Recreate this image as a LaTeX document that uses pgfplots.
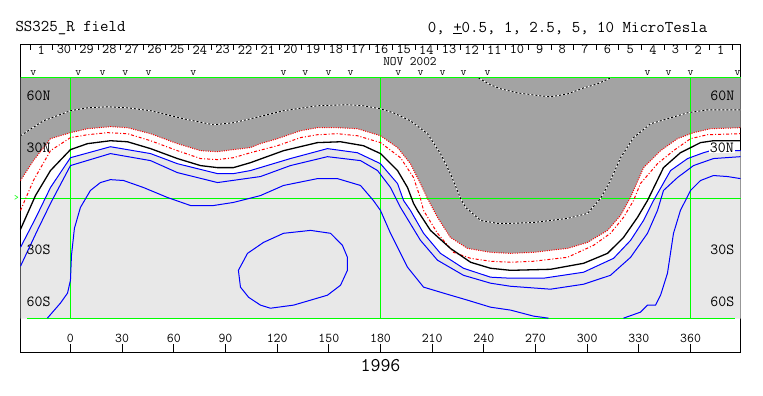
\documentclass[border=0pt]{standalone}
\usepackage{fontspec}
\usepackage{pgfplots}
\pgfplotsset{compat=1.18}
\definecolor{dgray}{HTML}{A3A3A3}
\definecolor{lgray}{HTML}{E8E8E8}
\definecolor{grn}{HTML}{00FF00}
\definecolor{blu}{HTML}{0000FF}
\definecolor{rd}{HTML}{FF0000}
\newcommand{\fs}[1]{\ttfamily\fontsize{#1}{#1}\selectfont}
\begin{document}
\begin{tikzpicture}
\useasboundingbox (-20.5bp,-43.21bp) rectangle (742.5bp,352.79bp);
\begin{axis}[
  at={(0,0)}, anchor=south west,
  scale only axis, width=720bp, height=308.57bp,
  xmin=-29, xmax=389, ymin=-90, ymax=90,
  axis line style={black, line width=0.8bp},
  clip=false,
  tick align=inside,
  xtick={0,30,...,360}, xtick pos=left,
  major tick length=9bp, minor tick length=6bp,
  ytick=\empty, minor ytick={-80,-70,...,80}, ytick pos=both,
  tick style={black, line width=0.8bp},
  /pgf/number format/assume math mode=true,
  xticklabel style={font=\fs{13.5}, anchor=center, yshift=14.5bp},
]
% fills
\addplot[fill=dgray, draw=none] coordinates {
(-29.0,10.5) (-21.5,22.1) (-11.6,34.9) (0,38.4) (9.9,40.7) (23.2,41.9) (33.1,41.3) (46.5,37.8) (62.1,32.0) (75.5,27.9) (85.3,27.3) (94.6,28.5) (104.5,29.7) (110.3,32.0) (120.2,34.9) (133.5,39.5) (143.4,41.3) (155.0,41.3) (166.6,40.7) (180.0,36.6) (189.9,29.7) (197.4,20.3) (203.2,8.7) (207.3,0) (213.1,-11.0) (220.6,-22.7) (230.5,-29.1) (243.9,-31.4) (255.5,-32.0) (268.8,-31.4) (288.6,-29.1) (300.2,-25.6) (311.8,-18.6) (319.3,-9.9) (325.1,0.6) (332.7,18.0) (342.6,27.9) (352.4,34.9) (361.7,38.4) (371.6,40.7) (389.0,41.3)
(389,70.6) (-29,70.6)} -- cycle;
\addplot[fill=lgray, draw=none] coordinates {
(-29.0,-28.5) (-20.3,-11.6) (-11.6,6.4) (0,23.8) (23.2,30.2) (46.5,26.2) (62.1,20.3) (85.4,14.5) (94.6,14.5) (104.5,16.3) (127.7,23.3) (149.2,29.1) (166.6,26.7) (180.0,20.3) (189.9,8.7) (193.4,-1.2) (197.4,-7.0) (205.0,-20.3) (214.8,-32.0) (228.2,-40.7) (243.9,-45.9) (255.5,-46.5) (274.6,-46.5) (297.9,-43.0) (315.3,-34.9) (325.2,-24.4) (332.7,-12.8) (338.5,-1.2) (348.4,16.3) (358.3,23.3) (367.5,26.7) (371.6,27.9) (389.0,27.9)
(389,-70) (-29,-70)} -- cycle;
% green grid
\addplot[grn, line width=1.1bp] coordinates {(-29,70.6) (389,70.6)};
\addplot[grn, line width=1.1bp] coordinates {(-29,0) (389,0)};
\addplot[grn, line width=1.1bp] coordinates {(-25,-70) (386,-70)};
\addplot[grn, line width=1.1bp] coordinates {(0,-70) (0,70.6)};
\addplot[grn, line width=1.1bp] coordinates {(180,-70) (180,70.6)};
\addplot[grn, line width=0.8bp] coordinates {(360,-70) (360,70.6)};
% black/white dashed contours in negative region
\addplot[white, line width=0.9bp] coordinates {
(-29.0,36.6) (-15.7,45.3) (0,51.2) (9.9,52.9) (21.5,53.5) (33.1,52.9) (46.5,51.2) (65.6,46.5) (83.0,43.0) (94.6,44.2) (104.5,46.5) (123.7,51.2) (143.4,54.1) (160.8,54.7) (170.1,54.1) (180.0,52.3) (187.5,50.0) (197.4,45.3) (207.3,37.8) (214.8,26.2) (220.6,14.5) (226.5,0) (229.4,-5.2) (238.1,-12.8) (247.9,-14.5) (255.5,-14.5) (268.8,-14.0) (288.6,-11.6) (300.2,-8.7) (307.7,0) (313.5,10.5) (319.4,23.8) (326.9,35.5) (336.8,43.6) (346.6,46.5) (358.3,50.0) (369.8,51.7) (389.0,51.7)};
\addplot[black, line width=0.9bp, dash pattern=on 2bp off 2bp] coordinates {
(-29.0,36.6) (-15.7,45.3) (0,51.2) (9.9,52.9) (21.5,53.5) (33.1,52.9) (46.5,51.2) (65.6,46.5) (83.0,43.0) (94.6,44.2) (104.5,46.5) (123.7,51.2) (143.4,54.1) (160.8,54.7) (170.1,54.1) (180.0,52.3) (187.5,50.0) (197.4,45.3) (207.3,37.8) (214.8,26.2) (220.6,14.5) (226.5,0) (229.4,-5.2) (238.1,-12.8) (247.9,-14.5) (255.5,-14.5) (268.8,-14.0) (288.6,-11.6) (300.2,-8.7) (307.7,0) (313.5,10.5) (319.4,23.8) (326.9,35.5) (336.8,43.6) (346.6,46.5) (358.3,50.0) (369.8,51.7) (389.0,51.7)};
\addplot[white, line width=0.9bp] coordinates {
(236.9,70.3) (243.9,66.3) (249.7,64.0) (259.5,61.6) (272.9,59.9) (278.7,59.3) (288.6,61.0) (297.9,64.5) (306.0,66.9) (313.5,70.3)};
\addplot[black, line width=0.9bp, dash pattern=on 2bp off 2bp] coordinates {
(236.9,70.3) (243.9,66.3) (249.7,64.0) (259.5,61.6) (272.9,59.9) (278.7,59.3) (288.6,61.0) (297.9,64.5) (306.0,66.9) (313.5,70.3)};
% red dotted (gray edge)
\addplot[rd, line width=1bp, dash pattern=on 1bp off 1.3bp] coordinates {
(-29.0,10.5) (-21.5,22.1) (-11.6,34.9) (0,38.4) (9.9,40.7) (23.2,41.9) (33.1,41.3) (46.5,37.8) (62.1,32.0) (75.5,27.9) (85.3,27.3) (94.6,28.5) (104.5,29.7) (110.3,32.0) (120.2,34.9) (133.5,39.5) (143.4,41.3) (155.0,41.3) (166.6,40.7) (180.0,36.6) (189.9,29.7) (197.4,20.3) (203.2,8.7) (207.3,0) (213.1,-11.0) (220.6,-22.7) (230.5,-29.1) (243.9,-31.4) (255.5,-32.0) (268.8,-31.4) (288.6,-29.1) (300.2,-25.6) (311.8,-18.6) (319.3,-9.9) (325.1,0.6) (332.7,18.0) (342.6,27.9) (352.4,34.9) (361.7,38.4) (371.6,40.7) (389.0,41.3)};
% red dash-dot
\addplot[rd, line width=1bp, dash pattern=on 3bp off 2bp on 1bp off 2bp] coordinates {
(-29.0,-7.0) (-21.5,10.5) (-11.6,27.9) (0,35.5) (9.9,37.2) (21.5,38.4) (33.1,37.8) (46.5,33.7) (62.1,27.9) (75.5,23.3) (85.4,22.7) (94.6,23.8) (104.5,26.7) (120.2,30.8) (133.5,35.5) (143.4,37.2) (155.0,37.8) (166.6,36.6) (180.0,32.6) (191.6,23.8) (199.2,12.2) (203.2,0) (205.0,-7.0) (213.1,-20.3) (222.4,-31.4) (232.3,-34.9) (243.9,-36.6) (255.5,-37.2) (268.8,-36.6) (288.6,-34.3) (303.7,-27.3) (313.5,-20.3) (321.1,-11.0) (326.9,-1.2) (330.9,8.7) (340.8,20.3) (350.1,27.9) (360.0,34.9) (369.8,37.2) (389.0,37.8)};
% neutral line
\addplot[black, line width=1.3bp] coordinates {
(-29.0,-18.0) (-20.3,1.7) (-11.6,16.3) (0,28.5) (9.9,32.0) (23.2,33.7) (33.1,33.1) (46.5,29.1) (62.1,23.3) (75.5,19.2) (85.4,18.0) (94.6,18.0) (104.5,20.9) (123.7,27.9) (143.4,32.6) (156.8,33.1) (170.1,30.8) (180.0,26.2) (189.9,16.3) (195.7,6.4) (199.2,-2.9) (201.5,-7.0) (209.0,-18.6) (220.6,-29.1) (232.3,-37.2) (243.9,-40.7) (255.5,-41.9) (278.7,-41.3) (297.9,-37.8) (311.8,-32.0) (321.1,-22.7) (329.2,-11.0) (335.0,-1.2) (344.3,18.0) (354.1,26.7) (365.8,32.6) (373.3,33.7) (389.0,33.7)};
% blue contours
\addplot[blu, line width=1bp] coordinates {
(-29.0,-28.5) (-20.3,-11.6) (-11.6,6.4) (0,23.8) (23.2,30.2) (46.5,26.2) (62.1,20.3) (85.4,14.5) (94.6,14.5) (104.5,16.3) (127.7,23.3) (149.2,29.1) (166.6,26.7) (180.0,20.3) (189.9,8.7) (193.4,-1.2) (197.4,-7.0) (205.0,-20.3) (214.8,-32.0) (228.2,-40.7) (243.9,-45.9) (255.5,-46.5) (274.6,-46.5) (297.9,-43.0) (315.3,-34.9) (325.2,-24.4) (332.7,-12.8) (338.5,-1.2) (348.4,16.3) (358.3,23.3) (367.5,26.7) (371.6,27.9) (389.0,27.9)};
\addplot[blu, line width=1bp] coordinates {
(-29.0,-39.5) (-19.2,-18.6) (-11.6,-2.9) (0,19.2) (23.2,26.2) (46.5,22.1) (62.1,15.1) (85.4,9.3) (110.3,12.8) (127.7,19.2) (149.2,24.4) (168.4,22.1) (178.3,16.3) (185.8,6.4) (191.6,-5.2) (203.2,-24.4) (213.1,-36.0) (228.2,-44.8) (243.9,-49.4) (255.5,-51.2) (278.7,-52.9) (297.9,-50.0) (313.5,-44.8) (325.2,-34.3) (335.0,-20.3) (340.8,-7.0) (344.3,4.7) (352.4,12.2) (361.7,19.2) (373.3,23.3) (389.0,24.4)};
\addplot[blu, line width=1bp] coordinates {
(-13.4,-69.8) (-5.8,-61.0) (-1.7,-55.2) (0,-47.7) (0.6,-33.1) (2.3,-17.4) (5.8,-5.2) (11.6,4.7) (17.4,9.3) (23.2,11.0) (30.8,10.5) (42.4,6.4) (56.3,0.6) (69.7,-4.1) (83.0,-4.1) (94.6,-2.3) (110.3,1.7) (123.7,7.6) (143.4,11.6) (155.0,11.6) (168.4,7.6) (175.9,-1.2) (180.0,-7.0) (185.8,-20.3) (195.7,-40.1) (205.0,-51.7) (216.6,-55.2) (230.5,-59.3) (243.9,-63.4) (255.5,-65.1) (268.8,-68.6) (277.5,-69.8)};
\addplot[blu, line width=1bp] coordinates {
(321.1,-69.8) (330.9,-66.3) (335.0,-62.2) (339.7,-62.2) (342.6,-56.4) (346.6,-43.6) (350.1,-20.3) (354.1,-7.0) (360.0,4.7) (365.8,10.5) (373.3,13.4) (381.5,12.8) (389.0,11.6)};
\addplot[blu, line width=1bp] coordinates {
(97.5,-41.9) (98.7,-51.7) (103.4,-57.6) (110.3,-62.2) (116.1,-64.0) (129.5,-62.2) (139.4,-59.3) (149.2,-56.4) (156.8,-50.6) (160.8,-41.9) (160.8,-34.3) (157.9,-27.3) (151.0,-20.3) (139.4,-18.6) (123.7,-20.3) (112.1,-25.6) (102.8,-32.0) (97.5,-41.9)};
% observation markers
\addplot[draw=none, mark=none, nodes near coords, point meta=explicit symbolic,
  nodes near coords style={anchor=center, inner sep=0pt, font=\fs{11.5}}]
  table[meta=l] {
x y l
-21.5 73.2 v
4.6 73.2 v
18.6 73.2 v
31.9 73.2 v
45.3 73.2 v
71.4 73.2 v
123.7 73.2 v
136.4 73.2 v
149.8 73.2 v
162.6 73.2 v
190.4 73.2 v
203.2 73.2 v
216.0 73.2 v
228.2 73.2 v
242.1 73.2 v
335.0 73.2 v
347.2 73.2 v
360.0 73.2 v
387.3 73.2 v
};
% day ticks
\addplot[black, line width=0.8bp, unbounded coords=jump] coordinates {
(-23.5,90) (-23.5,86.5) (-23.5,nan) (-10.35,90) (-10.35,86.5) (-10.35,nan)
(2.8,90) (2.8,86.5) (2.8,nan) (15.95,90) (15.95,86.5) (15.95,nan)
(29.1,90) (29.1,86.5) (29.1,nan) (42.25,90) (42.25,86.5) (42.25,nan)
(55.4,90) (55.4,86.5) (55.4,nan) (68.55,90) (68.55,86.5) (68.55,nan)
(81.7,90) (81.7,86.5) (81.7,nan) (94.85,90) (94.85,86.5) (94.85,nan)
(108.0,90) (108.0,86.5) (108.0,nan) (121.15,90) (121.15,86.5) (121.15,nan)
(134.3,90) (134.3,86.5) (134.3,nan) (147.45,90) (147.45,86.5) (147.45,nan)
(160.6,90) (160.6,86.5) (160.6,nan) (173.75,90) (173.75,86.5) (173.75,nan)
(186.9,90) (186.9,86.5) (186.9,nan) (200.05,90) (200.05,86.5) (200.05,nan)
(213.2,90) (213.2,86.5) (213.2,nan) (226.35,90) (226.35,86.5) (226.35,nan)
(239.5,90) (239.5,86.5) (239.5,nan) (252.65,90) (252.65,86.5) (252.65,nan)
(265.8,90) (265.8,86.5) (265.8,nan) (278.95,90) (278.95,86.5) (278.95,nan)
(292.1,90) (292.1,86.5) (292.1,nan) (305.25,90) (305.25,86.5) (305.25,nan)
(318.4,90) (318.4,86.5) (318.4,nan) (331.55,90) (331.55,86.5) (331.55,nan)
(344.7,90) (344.7,86.5) (344.7,nan) (357.85,90) (357.85,86.5) (357.85,nan)
(371.0,90) (371.0,86.5) (371.0,nan) (384.15,90) (384.15,86.5)};
% day labels
\addplot[draw=none, mark=none, nodes near coords, point meta=explicit symbolic,
  nodes near coords style={anchor=center, inner sep=0pt, font=\fs{14}}]
  table[meta=l] {
x y l
-16.93 86.8 1
-3.78 86.8 30
9.38 86.8 29
22.53 86.8 28
35.68 86.8 27
48.83 86.8 26
61.98 86.8 25
75.13 86.8 24
88.28 86.8 23
101.43 86.8 22
114.58 86.8 21
127.73 86.8 20
140.88 86.8 19
154.03 86.8 18
167.18 86.8 17
180.33 86.8 16
193.48 86.8 15
206.63 86.8 14
219.78 86.8 13
232.93 86.8 12
246.08 86.8 11
259.23 86.8 10
272.38 86.8 9
285.53 86.8 8
298.68 86.8 7
311.83 86.8 6
324.98 86.8 5
338.13 86.8 4
351.28 86.8 3
364.43 86.8 2
377.58 86.8 1
};
% texts
\node[font=\fs{13}, anchor=west, inner sep=0pt] at (axis cs:181.5,79.9) {NOV 2002};
\node[font=\fs{15.5}, anchor=west, inner sep=0pt] at (axis cs:-25.5,59.8) {60N};
\node[font=\fs{15.5}, anchor=west, inner sep=0pt] at (axis cs:-25.5,29.8) {30N};
\node[font=\fs{15.5}, anchor=west, inner sep=0pt] at (axis cs:-25.5,-30.2) {30S};
\node[font=\fs{15.5}, anchor=west, inner sep=0pt] at (axis cs:-25.5,-60.2) {60S};
\node[font=\fs{15.5}, anchor=east, inner sep=0pt] at (axis cs:385.5,59.8) {60N};
\node[font=\fs{15.5}, anchor=east, inner sep=1pt, fill=white] at (axis cs:385.8,29.8) {30N};
\node[font=\fs{15.5}, anchor=east, inner sep=0pt] at (axis cs:385.5,-30.2) {30S};
\node[font=\fs{15.5}, anchor=east, inner sep=0pt] at (axis cs:385.5,-60.2) {60S};
\node[font=\fs{19.5}, anchor=center, inner sep=0pt] at (axis cs:180,-97.2) {1996};
\node[font=\fs{16.5}, anchor=west, inner sep=0pt] at (axis cs:-32,99.4) {SS325\_R field};
\node[font=\fs{16.5}, anchor=center, inner sep=0pt] at (axis cs:288.6,99.4) {0, \underline{+}0.5, 1, 2.5, 5, 10 MicroTesla};
\node[font=\fs{9}, text=grn, anchor=center, inner sep=0pt] at (axis cs:-31.3,0.5) {>};
\end{axis}
\end{tikzpicture}
\end{document}
